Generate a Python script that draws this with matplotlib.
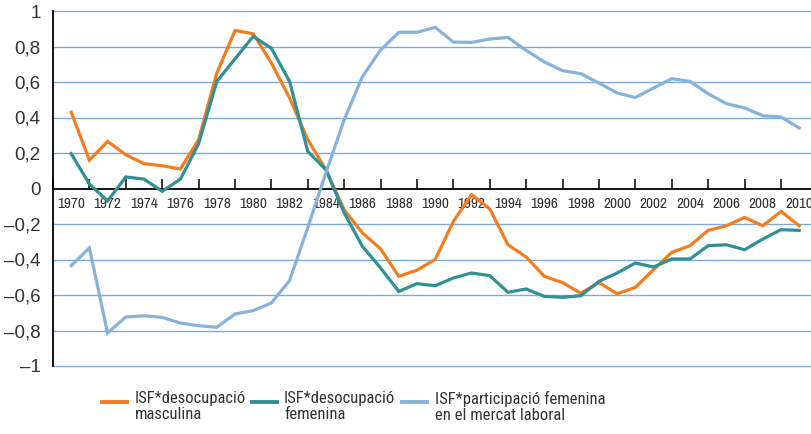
import matplotlib.pyplot as plt
from matplotlib.lines import Line2D
from matplotlib.ticker import FixedLocator, FuncFormatter

plt.rcParams['font.family'] = ['Liberation Sans', 'DejaVu Sans']
estret = ['Archivo Narrow', 'Liberation Sans', 'DejaVu Sans']
llegenda_font = ['Roboto Condensed', 'Archivo Narrow', 'Liberation Sans', 'DejaVu Sans']

anys = list(range(1970, 2011))

desocupacio_masculina = [0.43, 0.16, 0.265, 0.19, 0.14, 0.128, 0.11, 0.275, 0.65, 0.89,
                         0.872, 0.707, 0.51, 0.275, 0.105, -0.12, -0.25, -0.34, -0.495, -0.46,
                         -0.40, -0.185, -0.035, -0.115, -0.317, -0.386, -0.495, -0.53, -0.59, -0.53,
                         -0.593, -0.557, -0.457, -0.36, -0.322, -0.236, -0.21, -0.163, -0.21, -0.129,
                         -0.21]

desocupacio_femenina = [0.196, 0.025, -0.07, 0.065, 0.053, -0.016, 0.053, 0.252, 0.603, 0.73,
                        0.857, 0.79, 0.603, 0.209, 0.105, -0.137, -0.326, -0.448, -0.58, -0.536,
                        -0.548, -0.504, -0.476, -0.491, -0.585, -0.566, -0.608, -0.613, -0.604, -0.523,
                        -0.476, -0.42, -0.442, -0.397, -0.397, -0.322, -0.317, -0.345, -0.285, -0.232,
                        -0.236]

participacio_femenina = [-0.435, -0.335, -0.814, -0.724, -0.717, -0.726, -0.758, -0.773, -0.782, -0.707,
                         -0.688, -0.645, -0.518, -0.22, 0.09, 0.387, 0.63, 0.78, 0.88, 0.88,
                         0.908, 0.825, 0.823, 0.842, 0.851, 0.778, 0.713, 0.664, 0.647, 0.594,
                         0.538, 0.513, 0.566, 0.619, 0.603, 0.534, 0.478, 0.454, 0.41, 0.403,
                         0.341]

etiquetes = ['ISF*desocupació\nmasculina', 'ISF*desocupació\nfemenina',
             'ISF*participació femenina\nen el mercat laboral']
colors = ['#f47c20', '#2f9196', '#87b2dc']

fig = plt.figure(figsize=(8.11, 4.34), dpi=100)
ax = fig.add_axes([53 / 811, 1 - 366 / 434, 1 - 53 / 811, 355 / 434])

# linies de quadricula
for v in [-1, -0.8, -0.6, -0.4, -0.2, 0.2, 0.4, 0.6, 0.8, 1]:
    ax.axhline(v, color='#7eaad8', lw=1.0, zorder=1, clip_on=False)

for serie, c in zip([desocupacio_masculina, desocupacio_femenina, participacio_femenina], colors):
    ax.plot(anys, serie, color=c, lw=2.3, zorder=3, solid_joinstyle='miter')

ax.set_xlim(1969, 2010.65)
ax.set_ylim(-1, 1)

for s in ['top', 'right']:
    ax.spines[s].set_visible(False)
ax.spines['bottom'].set_position(('data', 0))
ax.spines['bottom'].set_linewidth(1.3)
ax.spines['left'].set_linewidth(1.3)
ax.spines['bottom'].set_zorder(2)

ax.xaxis.set_major_locator(FixedLocator(list(range(1969, 2010, 2))))
ax.xaxis.set_minor_locator(FixedLocator(list(range(1970, 2011, 2))))
ax.xaxis.set_major_formatter(FuncFormatter(lambda v, p: ''))
ax.xaxis.set_minor_formatter(FuncFormatter(lambda v, p: '%d' % v))
ax.tick_params(axis='x', which='major', direction='in', length=7.5, width=1.1, color='black')
ax.tick_params(axis='x', which='minor', length=0, pad=6, labelsize=11, labelcolor='#333333')
for t in ax.get_xticklabels(minor=True):
    t.set_family(estret)

ax.set_yticks([1, 0.8, 0.6, 0.4, 0.2, 0, -0.2, -0.4, -0.6, -0.8, -1])
ax.yaxis.set_major_formatter(FuncFormatter(
    lambda v, p: ('%g' % round(v, 1)).replace('.', ',').replace('-', '\u2013')))
ax.tick_params(axis='y', length=0, pad=9, labelsize=13.5, labelcolor='#333333')

# llegenda
posicions = [(102, 135), (252, 284), (402, 435)]
for (x0, xt), c, txt in zip(posicions, colors, etiquetes):
    fig.add_artist(Line2D([x0 / 811, (x0 + 25) / 811], [1 - 402 / 434] * 2,
                          transform=fig.transFigure, color=c, lw=2.8))
    fig.text(xt / 811, 1 - 391 / 434, txt, fontsize=12, color='#333333',
             family=llegenda_font, va='top', ha='left', linespacing=1.05)

fig.savefig('out.png', dpi=100)
